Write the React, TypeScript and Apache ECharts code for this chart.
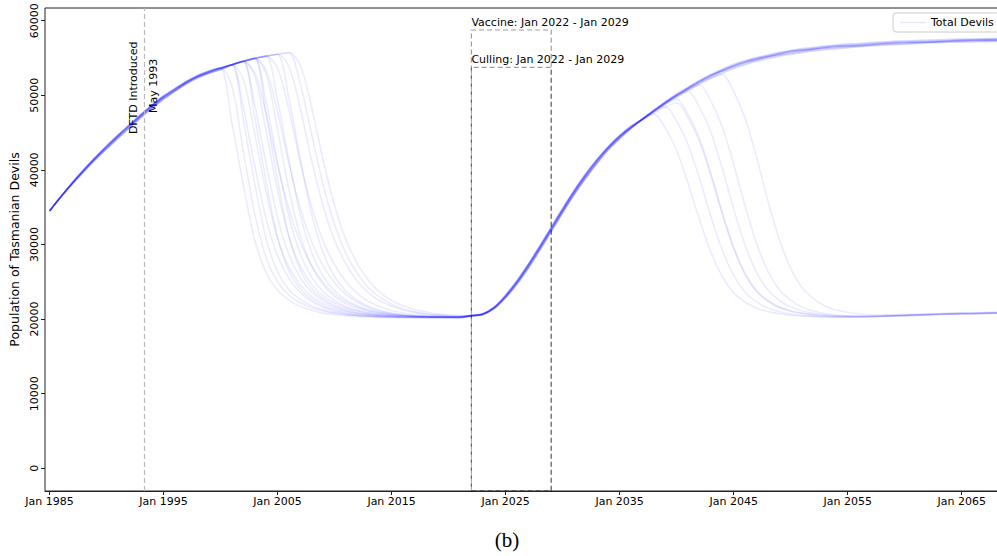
import React, { useEffect, useRef } from "react";
import * as echarts from "echarts";

// ---------- data ----------
const growthYears = [1985, 1986, 1987, 1988, 1989, 1990, 1991, 1992, 1993, 1994, 1995, 1996, 1997];
const growthA = [34500, 36400, 38200, 39900, 41500, 43000, 44450, 45850, 47200, 48500, 49700, 50700, 51700];
const growthB = [34500, 36450, 38300, 40050, 41650, 43200, 44650, 46050, 47400, 48700, 49900, 50900, 51850];
const growthC = [34500, 36350, 38100, 39750, 41350, 42800, 44250, 45650, 47000, 48300, 49500, 50550, 51550];
const growthD = [34500, 36400, 38250, 39950, 41600, 43100, 44550, 45950, 47300, 48600, 49800, 50800, 51750];
const growthRuns = [growthA, growthB, growthC, growthD];

const crashYears = [1998, 1999, 2000, 2001, 2002, 2003, 2004, 2005, 2006, 2007, 2008, 2009, 2010, 2011, 2012, 2013, 2014, 2015, 2016, 2017, 2018, 2019, 2020, 2021];
const crashRuns = [
  [52500, 53100, 53600, 46250, 37900, 30550, 26210, 23870, 22540, 21700, 21170, 20800, 20570, 20430, 20330, 20270, 20230, 20200, 20200, 20200, 20200, 20200, 20200, 20200],
  [52650, 53250, 53700, 51170, 42440, 34060, 28180, 25000, 23220, 22180, 21510, 21070, 20770, 20600, 20470, 20400, 20350, 20330, 20300, 20300, 20300, 20300, 20300, 20300],
  [52350, 52950, 53450, 54100, 46650, 38190, 30740, 26340, 23970, 22620, 21770, 21230, 20860, 20620, 20490, 20390, 20320, 20280, 20250, 20250, 20250, 20250, 20250, 20250],
  [52550, 53150, 53650, 54100, 48330, 40520, 33390, 28470, 25410, 23550, 22360, 21580, 21070, 20730, 20520, 20390, 20290, 20220, 20180, 20150, 20150, 20150, 20150, 20150],
  [52500, 53100, 53600, 54100, 52110, 44800, 36970, 30850, 26940, 24550, 23020, 22070, 21460, 21050, 20780, 20610, 20490, 20400, 20350, 20320, 20300, 20300, 20300, 20300],
  [52650, 53250, 53700, 54100, 54550, 47000, 38430, 30880, 26420, 24020, 22650, 21790, 21250, 20870, 20630, 20490, 20390, 20320, 20280, 20250, 20250, 20250, 20250, 20250],
  [52350, 52950, 53450, 54100, 54550, 48710, 40810, 33600, 28620, 25520, 23640, 22430, 21640, 21130, 20780, 20580, 20440, 20340, 20270, 20230, 20200, 20200, 20200, 20200],
  [52550, 53150, 53650, 54100, 54550, 52510, 45120, 37210, 31010, 27060, 24650, 23100, 22140, 21520, 21110, 20830, 20660, 20540, 20450, 20400, 20370, 20350, 20350, 20350],
  [52500, 53100, 53600, 54100, 54550, 53030, 47510, 40610, 34740, 30260, 27150, 24910, 23360, 22320, 21630, 21150, 20840, 20600, 20470, 20390, 20320, 20280, 20250, 20250],
  [52650, 53250, 53700, 54100, 54550, 54950, 49040, 41050, 33750, 28710, 25590, 23680, 22460, 21660, 21140, 20790, 20580, 20440, 20340, 20270, 20230, 20200, 20200, 20200],
  [52350, 52950, 53450, 54100, 54550, 54950, 47330, 38670, 31040, 26540, 24110, 22730, 21860, 21310, 20920, 20680, 20540, 20440, 20370, 20330, 20300, 20300, 20300, 20300],
  [52550, 53150, 53650, 54100, 54550, 54950, 52840, 45340, 37330, 31050, 27050, 24610, 23040, 22060, 21440, 21020, 20740, 20560, 20440, 20350, 20300, 20270, 20250, 20250],
  [52500, 53100, 53600, 54100, 54550, 54950, 53350, 47760, 40770, 34830, 30290, 27140, 24870, 23300, 22250, 21550, 21060, 20740, 20500, 20380, 20290, 20220, 20190, 20150],
  [52650, 53250, 53700, 54100, 54550, 54950, 55250, 49310, 41270, 33930, 28860, 25720, 23800, 22570, 21770, 21240, 20890, 20680, 20550, 20440, 20370, 20330, 20300, 20300],
  [52350, 52950, 53450, 54100, 54550, 54950, 55250, 53620, 48000, 40970, 35000, 30440, 27280, 24990, 23410, 22360, 21660, 21160, 20850, 20600, 20480, 20390, 20320, 20290],
  [52550, 53150, 53650, 54100, 54550, 54950, 55250, 55500, 49500, 41380, 33970, 28850, 25670, 23730, 22500, 21680, 21150, 20800, 20590, 20450, 20340, 20270, 20240, 20200],
  [52500, 53100, 53600, 54100, 54550, 54950, 55250, 55500, 53840, 48190, 41130, 35130, 30540, 27360, 25070, 23480, 22420, 21710, 21220, 20900, 20650, 20530, 20440, 20370],
  [52650, 53250, 53700, 54100, 54550, 54950, 55250, 55500, 55700, 51450, 44710, 37980, 32660, 28760, 26100, 24150, 22870, 21990, 21380, 20990, 20710, 20530, 20430, 20360],
  [52350, 52950, 53450, 54100, 54550, 54950, 55250, 55500, 55700, 54000, 48340, 41250, 35230, 30620, 27440, 25130, 23540, 22480, 21770, 21270, 20950, 20700, 20580, 20490],
];

const recoveryYears = [2022, 2023, 2024, 2025, 2026, 2027, 2028, 2029, 2030, 2031, 2032, 2033, 2034, 2035, 2036];
const recoveryA = [20450, 20650, 21500, 23000, 24900, 27100, 29500, 32000, 34500, 36900, 39100, 41100, 42900, 44400, 45700];
const recoveryB = [20500, 20700, 21600, 23200, 25150, 27350, 29800, 32300, 34800, 37200, 39400, 41350, 43100, 44600, 45850];
const recoveryC = [20400, 20600, 21400, 22850, 24700, 26850, 29250, 31750, 34250, 36650, 38850, 40850, 42700, 44200, 45550];
const recoveryD = [20450, 20650, 21550, 23100, 25000, 27250, 29650, 32150, 34650, 37050, 39250, 41250, 43000, 44500, 45650];
const recoveryRuns = [recoveryA, recoveryB, recoveryC, recoveryD];

const laterYears = [2037, 2038, 2039, 2040, 2041, 2042, 2043, 2044, 2045, 2046, 2047, 2048, 2049, 2050, 2051, 2052, 2053, 2054, 2056, 2058, 2060, 2062, 2064, 2066, 2069];
const survivor1 = [46800, 47900, 49000, 50000, 50900, 51800, 52600, 53300, 53900, 54400, 54800, 55200, 55500, 55800, 56000, 56200, 56350, 56500, 56700, 56900, 57050, 57150, 57250, 57350, 57450];
const survivor2 = [46850, 48000, 49150, 50200, 51100, 52000, 52800, 53500, 54150, 54650, 55050, 55400, 55750, 56000, 56250, 56400, 56600, 56750, 56950, 57150, 57300, 57400, 57500, 57550, 57650];
const survivor3 = [46750, 47750, 48800, 49750, 50650, 51500, 52300, 53000, 53600, 54100, 54550, 54900, 55250, 55500, 55750, 55950, 56100, 56250, 56500, 56700, 56850, 57000, 57100, 57150, 57250];
const survivor4 = [46800, 47950, 49050, 50000, 50950, 51900, 52650, 53250, 53950, 54500, 54850, 55150, 55550, 55900, 56050, 56150, 56400, 56600, 56650, 56950, 57100, 57100, 57300, 57400, 57400];
const survivor5 = [46750, 47850, 48950, 49950, 50800, 51700, 52500, 53250, 53800, 54300, 54700, 55150, 55400, 55650, 55900, 56150, 56300, 56400, 56600, 56800, 56950, 57100, 57200, 57300, 57350];
const survivor6 = [46850, 47950, 49000, 50050, 51000, 51850, 52700, 53400, 54000, 54500, 54950, 55300, 55600, 55900, 56100, 56300, 56500, 56600, 56800, 57000, 57150, 57250, 57350, 57450, 57550];
const relapse1 = [46700, 47500, 45590, 42600, 38240, 33330, 28970, 25700, 23520, 22290, 21480, 21010, 20710, 20520, 20410, 20330, 20290, 20250, 20300, 20400, 20500, 20600, 20700, 20750, 20850];
const relapse2 = [46750, 47800, 48500, 46520, 43410, 38880, 33780, 29260, 25860, 23600, 22320, 21470, 20990, 20680, 20480, 20370, 20280, 20240, 20250, 20350, 20450, 20550, 20650, 20700, 20800];
const relapse3 = [46800, 47850, 48800, 49500, 47460, 44240, 39570, 34320, 29640, 26140, 23800, 22490, 21610, 21120, 20800, 20590, 20480, 20390, 20400, 20450, 20550, 20650, 20750, 20800, 20900];
const relapse4 = [46700, 47600, 48400, 49000, 46990, 43830, 39230, 34050, 29450, 26000, 23700, 22410, 21540, 21060, 20740, 20540, 20420, 20340, 20320, 20400, 20500, 20600, 20700, 20750, 20850];
const relapse5 = [46800, 47900, 48950, 49800, 50500, 48380, 45060, 40220, 34770, 29930, 26300, 23880, 22520, 21610, 21100, 20760, 20550, 20430, 20350, 20400, 20500, 20600, 20700, 20750, 20850];
const relapse6 = [46800, 47900, 49000, 49950, 50750, 51400, 49220, 45780, 40790, 35180, 30180, 26440, 23940, 22540, 21600, 21070, 20730, 20510, 20340, 20370, 20450, 20550, 20650, 20700, 20800];
const relapse7 = [46800, 47900, 49000, 50000, 50900, 51700, 52300, 52800, 50530, 46950, 41750, 35900, 30700, 26800, 24200, 22740, 21760, 21210, 20680, 20550, 20600, 20700, 20800, 20850, 20950];
const laterRuns = [
  relapse1, survivor1, survivor2, relapse2, survivor3, survivor4, relapse3, survivor5, survivor6, relapse4,
  survivor1, survivor2, relapse5, survivor3, survivor4, relapse6, survivor5, survivor6, relapse7,
];

const xTicks = [1985, 1995, 2005, 2015, 2025, 2035, 2045, 2055, 2065];
const yTicks = [0, 10000, 20000, 30000, 40000, 50000, 60000];
const xMin = 1984.6;
const xMax = 2068.8;
const yMin = -3050;
const yMax = 61700;
const dftdYear = 1993 + 4 / 12;
const interventionStart = 2022;
const interventionEnd = 2029;
const vaccineTop = 58750;
const cullingTop = 53750;
const dftdLabelValue = 51000;

const FONT = "DejaVu Sans";

export default function App() {
  const ref = useRef<HTMLDivElement>(null);

  useEffect(() => {
    document.body.style.margin = "0";
    const chart = echarts.init(ref.current as HTMLDivElement, null, { renderer: "svg" });

    const runs = crashRuns.map((cr, i) => {
      const pts: number[][] = [];
      const g = growthRuns[i % 4];
      growthYears.forEach((y, k) => pts.push([y, g[k]]));
      crashYears.forEach((y, k) => pts.push([y, cr[k]]));
      const r = recoveryRuns[i % 4];
      recoveryYears.forEach((y, k) => pts.push([y, r[k]]));
      const later = laterRuns[i];
      laterYears.forEach((y, k) => pts.push([y, later[k]]));
      return pts;
    });

    const rectStyle = {
      color: "rgba(0,0,0,0)",
      borderColor: "rgba(0,0,0,0.38)",
      borderWidth: 1.2,
      borderType: [5, 3],
    };

    const series: any[] = runs.map((data, i) => {
      const s: any = {
        type: "line",
        name: "Total Devils",
        data,
        showSymbol: false,
        smooth: 0.3,
        silent: true,
        emphasis: { disabled: true },
        lineStyle: { color: "#0000ff", width: 1.6, opacity: 0.08 },
        itemStyle: { color: "#0000ff", opacity: 0.08 },
        z: 2,
      };
      if (i === 0) {
        s.markLine = {
          silent: true,
          symbol: ["none", "none"],
          label: { show: false },
          emphasis: { disabled: true },
          lineStyle: { color: "#bbbbbb", type: [5, 3], width: 1.2, opacity: 1 },
          data: [{ xAxis: dftdYear }],
        };
        s.markArea = {
          silent: true,
          label: { show: false },
          emphasis: { disabled: true },
          itemStyle: rectStyle,
          data: [
            [{ xAxis: interventionStart, yAxis: yMin }, { xAxis: interventionEnd, yAxis: vaccineTop }],
            [{ xAxis: interventionStart, yAxis: yMin }, { xAxis: interventionEnd, yAxis: cullingTop }],
          ],
        };
      }
      return s;
    });

    chart.setOption({
      animation: false,
      backgroundColor: "#ffffff",
      textStyle: { fontFamily: FONT },
      grid: {
        left: 45,
        top: 8,
        right: 10,
        bottom: 65,
        show: true,
        borderColor: "#222",
        borderWidth: 1,
        backgroundColor: "rgba(0,0,0,0)",
      },
      legend: {
        data: ["Total Devils"],
        left: 893,
        top: 13,
        padding: [4, 6, 4, 7],
        itemWidth: 26,
        itemHeight: 1.5,
        itemGap: 5,
        icon: "rect",
        itemStyle: { color: "rgba(0,0,255,0.1)", opacity: 1 },
        borderColor: "#cccccc",
        borderWidth: 1,
        borderRadius: 3,
        selectedMode: false,
        textStyle: { fontSize: 11, fontFamily: FONT, color: "#000" },
      },
      xAxis: {
        type: "value",
        min: xMin,
        max: xMax,
        z: 10,
        splitLine: { show: false },
        axisLine: { show: true, onZero: false, lineStyle: { color: "#222", width: 1 } },
        axisTick: { show: true, customValues: xTicks, length: 4, lineStyle: { color: "#222" } },
        axisLabel: {
          customValues: xTicks,
          margin: 5,
          fontSize: 11,
          fontFamily: FONT,
          color: "#000",
          formatter: (v: number) => "Jan " + Math.round(v),
        },
      },
      yAxis: {
        type: "value",
        min: yMin,
        max: yMax,
        name: "Population of Tasmanian Devils",
        nameLocation: "middle",
        nameRotate: 90,
        nameGap: 22,
        nameTextStyle: { fontSize: 12.5, fontFamily: FONT, color: "#000" },
        splitLine: { show: false },
        axisLine: { show: false },
        axisTick: { show: true, customValues: yTicks, length: 4, lineStyle: { color: "#222" } },
        axisLabel: {
          customValues: yTicks,
          rotate: 90,
          margin: 5,
          fontSize: 11,
          fontFamily: FONT,
          color: "#000",
          formatter: (v: number) => String(Math.round(v)),
        },
      },
      series,
    });

    const px = (x: number, y: number) => chart.convertToPixel({ gridIndex: 0 }, [x, y]) as number[];
    const vac = px(interventionStart, vaccineTop);
    const cul = px(interventionStart, cullingTop);
    const dftd = px(dftdYear, dftdLabelValue);
    const txt = (size: number) => ({ fontSize: size, fontFamily: FONT, fill: "#000" });

    chart.setOption({
      graphic: [
        {
          type: "text",
          x: vac[0],
          y: vac[1] - 2.5,
          silent: true,
          style: { text: "Vaccine: Jan 2022 - Jan 2029", align: "left", verticalAlign: "bottom", ...txt(11) },
        },
        {
          type: "text",
          x: cul[0],
          y: cul[1] - 2.5,
          silent: true,
          style: { text: "Culling: Jan 2022 - Jan 2029", align: "left", verticalAlign: "bottom", ...txt(11) },
        },
        {
          type: "text",
          x: dftd[0] - 11.5,
          y: dftd[1],
          rotation: Math.PI / 2,
          silent: true,
          style: { text: "DFTD Introduced", align: "center", verticalAlign: "middle", ...txt(11) },
        },
        {
          type: "text",
          x: dftd[0] + 9,
          y: dftd[1] - 2,
          rotation: Math.PI / 2,
          silent: true,
          style: { text: "May 1993", align: "center", verticalAlign: "middle", ...txt(11) },
        },
        {
          type: "text",
          x: 507,
          y: 540,
          silent: true,
          style: {
            text: "(b)",
            align: "center",
            verticalAlign: "middle",
            fontSize: 21,
            fontFamily: "Liberation Serif",
            fill: "#000",
          },
        },
      ],
    });

    return () => chart.dispose();
  }, []);

  return (
    <div style={{ width: 997, height: 556, overflow: "hidden", position: "relative", background: "#fff" }}>
      <div ref={ref} style={{ width: 1015, height: 556 }} />
    </div>
  );
}
